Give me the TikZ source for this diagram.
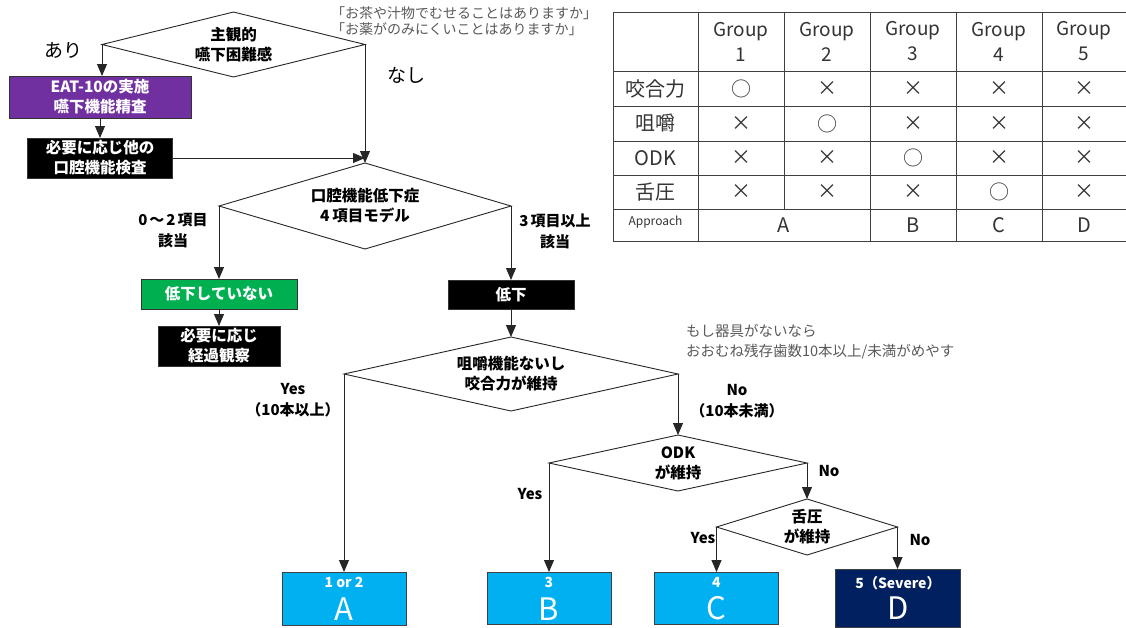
\documentclass[tikz,border=0pt]{standalone}
\usepackage{fontspec}
\setmainfont{Noto Sans CJK JP}
\usetikzlibrary{shapes.geometric,arrows.meta}
\definecolor{eatpurple}{HTML}{7030A0}
\definecolor{okgreen}{HTML}{00B050}
\definecolor{skyblue}{HTML}{00B0F0}
\definecolor{navyblue}{HTML}{002060}
\definecolor{notegray}{HTML}{595959}
\definecolor{tblline}{HTML}{404040}
\begin{document}
\begin{tikzpicture}[x=1pt,y=-1pt,
  every node/.style={inner sep=0pt, outer sep=0pt},
  dia/.style={diamond, draw=black!85, line width=0.9pt, fill=white,
    font=\bfseries\fontsize{15.5}{20}\selectfont, align=center},
  box/.style={rectangle, draw=black!80, line width=0.8pt, text=white,
    font=\bfseries\fontsize{15.5}{20}\selectfont, align=center},
  res/.style={rectangle, draw=black!75, line width=0.8pt, minimum width=124pt},
  restop/.style={text=white, font=\bfseries\fontsize{14}{14}\selectfont},
  resbig/.style={text=white, font=\fontsize{31}{31}\selectfont},
  lbl/.style={font=\bfseries\fontsize{15}{21}\selectfont, align=center},
  big/.style={font=\fontsize{19}{19}\selectfont},
  flow/.style={-{Triangle[length=12pt,width=10pt]}, line width=0.9pt, draw=black!85},
  note/.style={text=notegray, align=left, anchor=west},
  tline/.style={draw=tblline, line width=0.9pt},
  tcell/.style={text=black!80, font=\fontsize{20}{25}\selectfont, align=center},
]
\useasboundingbox (0,0) rectangle (1126,627);

% ---- flowchart nodes ----
\node[dia, aspect=4.05, minimum width=263pt, minimum height=65pt] (d1) at (233.5,44.5) {主観的\\嚥下困難感};
\node[box, fill=eatpurple, minimum width=182pt, minimum height=42pt] (eat) at (100,97) {EAT-10の実施\\嚥下機能精査};
\node[box, fill=black, minimum width=145pt, minimum height=40pt] (oral) at (100,158) {必要に応じ他の\\口腔機能検査};
\node[dia, aspect=3.4, minimum width=292pt, minimum height=86pt] (d2) at (365,206) {口腔機能低下症\\4\hspace{3pt}項目モデル};
\node[box, fill=okgreen, minimum width=156pt, minimum height=30pt] (ok) at (219,294) {低下していない};
\node[box, fill=black, minimum width=122pt, minimum height=40pt] (follow) at (219,346) {必要に応じ\\経過観察};
\node[box, fill=black, minimum width=126pt, minimum height=29pt] (low) at (511,294.5) {低下};
\node[dia, aspect=4.5, minimum width=334pt, minimum height=74pt] (d3) at (511,374) {咀嚼機能ないし\\咬合力が維持};
\node[dia, aspect=4.6, minimum width=258pt, minimum height=56pt] (d4) at (678,463) {ODK\\が維持};
\node[dia, aspect=3.23, minimum width=181pt, minimum height=56pt] (d5) at (807,527) {舌圧\\が維持};

\node[res, fill=skyblue, minimum height=53pt] (A) at (344,598.5) {};
\node[res, fill=skyblue, minimum height=52pt] (B) at (549,598) {};
\node[res, fill=skyblue, minimum height=52pt] (C) at (716.5,598) {};
\node[res, fill=navyblue, minimum width=125pt, minimum height=58pt] (D) at (898,598) {};
\node[restop] (Anum) at ([yshift=-10pt]A.north) {1 or 2};
\node[resbig] (Alet) at ([yshift=-11pt]A.center) {A};
\node[restop] (Bnum) at ([yshift=-10pt]B.north) {3};
\node[resbig] (Blet) at ([yshift=-11pt]B.center) {B};
\node[restop] (Cnum) at ([yshift=-10pt]C.north) {4};
\node[resbig] (Clet) at ([yshift=-10pt]C.center) {C};
\node[restop] (Dnum) at ([yshift=-14pt]D.north) {5（Severe）};
\node[resbig] (Dlet) at ([yshift=-10pt]D.center) {D};

% ---- connectors ----
\draw[flow] (d1.west) -- (d1.west |- eat.north);
\draw[flow] (eat.south) -- (oral.north);
\draw[flow] (d1.east) -- (d2.north);
\coordinate (merge) at ([yshift=3pt]d2.north);
\draw[flow] (oral.east) -- (oral.east -| merge);
\draw[flow] (d2.west) -- (d2.west |- ok.north);
\draw[flow] (ok.south) -- (follow.north);
\draw[flow] (d2.east) -- (d2.east |- low.north);
\draw[flow] (low.south) -- (d3.north);
\draw[flow] (d3.west) -- (d3.west |- A.north);
\draw[flow] (d3.east) -- (d4.north);
\draw[flow] (d4.west) -- (d4.west |- B.north);
\draw[flow] (d4.east) -- (d5.north);
\draw[flow] (d5.west) -- (d5.west |- C.north);
\draw[flow] (d5.east) -- (d5.east |- D.north);

% ---- labels ----
\node[big] (ari) at (63,50) {あり};
\node[big] (nashi) at (406,75) {なし};
\node[lbl] (l02) at (173,231) {0\hspace{2pt}～\hspace{2pt}2\hspace{2pt}項目\\該当};
\node[lbl] (l3) at (555,231) {3\hspace{2pt}項目以上\\該当};
\node[lbl] (ly1) at (293,400) {Yes\\（10本以上）};
\node[lbl] (ln1) at (737,401) {No\\（10本未満）};
\node[lbl] (ly2) at (530,494) {Yes};
\node[lbl] (ln2) at (829,471) {No};
\node[lbl] (ly3) at (703,538) {Yes};
\node[lbl] (ln3) at (920,540) {No};

% ---- notes ----
\node[note, font=\fontsize{14}{16}\selectfont] (n1) at (331,21) {「お茶や汁物でむせることはありますか」\\「お薬がのみにくいことはありますか」};
\node[note, font=\fontsize{14.5}{20}\selectfont] (n2) at (686,342) {もし器具がないなら\\おおむね残存歯数10本以上/未満がめやす};

% ---- table ----
\foreach \yy in {12,71,106,141,175,209,241} \draw[tline] (613,\yy) -- (1126,\yy);
\foreach \xx in {613,698,870,956,1042} \draw[tline] (\xx,12) -- (\xx,241);
\draw[tline] (784,12) -- (784,209);

\foreach \g/\xx in {1/741,2/827,3/913,4/999,5/1084}
  \node[tcell, font=\fontsize{19}{25}\selectfont] (g\g) at (\xx,41.5) {Group\\\g};
\node[tcell] (r1) at (655.5,88.5) {咬合力};
\node[tcell] (r2) at (655.5,123.5) {咀嚼};
\node[tcell] (r3) at (655.5,158) {ODK};
\node[tcell] (r4) at (655.5,192) {舌圧};
\node[tcell, font=\fontsize{12}{12}\selectfont] (r5) at (655.5,222) {Approach};
\foreach \r/\yy in {1/88.5,2/123.5,3/158,4/192}
  \foreach \c/\xx in {1/741,2/827,3/913,4/999,5/1084}
    \node[tcell] (m\r\c) at (\xx,\yy) {\ifnum\r=\c ○\else ×\fi};
\node[tcell] (apA) at (784,225) {A};
\node[tcell] (apB) at (913,225) {B};
\node[tcell] (apC) at (999,225) {C};
\node[tcell] (apD) at (1084,225) {D};
\end{tikzpicture}
\end{document}
